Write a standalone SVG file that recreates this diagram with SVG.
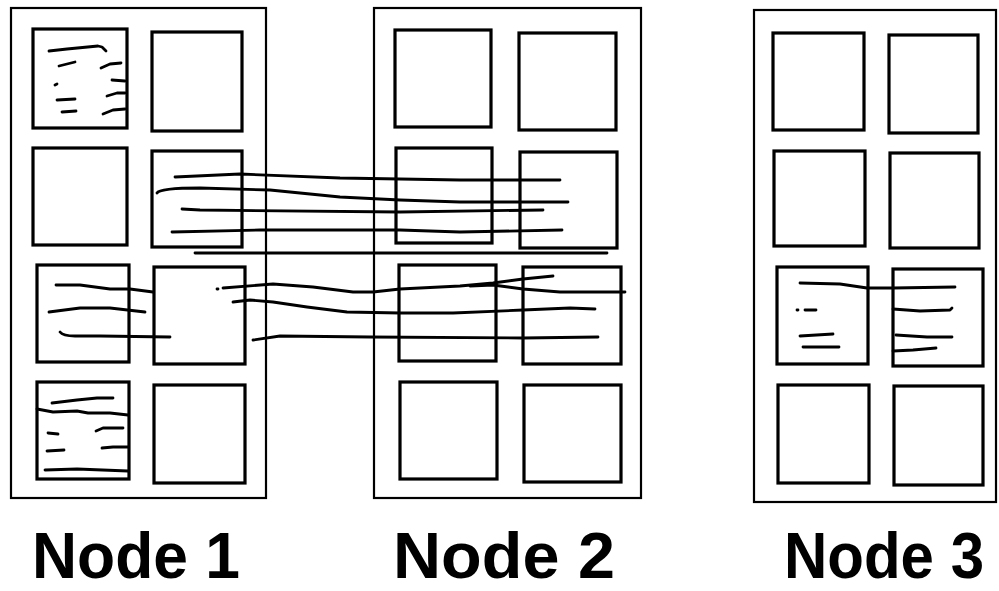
<svg xmlns="http://www.w3.org/2000/svg" width="999" height="591" viewBox="0 0 999 591">
  <style>
    .panel { fill: none; stroke: #000; stroke-width: 2.2; }
    .cell { fill: none; stroke: #000; stroke-width: 3.2; }
    .ink { fill: none; stroke: #000; stroke-width: 2.8; stroke-linecap: round; stroke-linejoin: round; }
    .label { font-family: "Liberation Sans", Arial, Helvetica, sans-serif; font-weight: bold; font-size: 64px; fill: #000; }
  </style>
  <rect x="0" y="0" width="999" height="591" fill="#fff"/>

  <!-- Node 1: memory panel with eight pages -->
  <g id="node1">
    <rect class="panel" x="11" y="8" width="255" height="490"/>
    <rect class="cell" x="33" y="29" width="94" height="99"/>
    <rect class="cell" x="152" y="32" width="90" height="99"/>
    <rect class="cell" x="33" y="148" width="94" height="97"/>
    <rect class="cell" x="152" y="151" width="90" height="96"/>
    <rect class="cell" x="37" y="265" width="92" height="97"/>
    <rect class="cell" x="154" y="267" width="91" height="97"/>
    <rect class="cell" x="37" y="382" width="92" height="97"/>
    <rect class="cell" x="154" y="385" width="91" height="98"/>
    <!-- scribbles in the top-left page -->
    <path class="ink" d="M49,51 L67,49 L98,46 L102,47 L106,51"/>
    <path class="ink" d="M59,66 L75,62"/>
    <path class="ink" d="M101,68 L110,64 L121,63"/>
    <path class="ink" d="M55,85 L57,84"/>
    <path class="ink" d="M112,80 L125,81"/>
    <path class="ink" d="M57,100 L75,99"/>
    <path class="ink" d="M107,96 L117,93 L125,93"/>
    <path class="ink" d="M62,112 L76,111"/>
    <path class="ink" d="M103,114 L113,110 L125,109"/>
    <!-- scribbles in the bottom-left page -->
    <path class="ink" d="M52,403 L77,400 L97,398 L113,398"/>
    <path class="ink" d="M37,409 L53,412 L77,411 L88,413 L110,413 L128,415"/>
    <path class="ink" d="M48,433 L58,434"/>
    <path class="ink" d="M96,431 L103,428 L123,428"/>
    <path class="ink" d="M47,451 L64,450"/>
    <path class="ink" d="M102,448 L113,447 L128,447"/>
    <path class="ink" d="M45,470 L77,469 L128,471"/>
    <!-- strokes between the third-row pages -->
    <path class="ink" d="M56,285 L80,285 L110,289 L130,289 L153,292"/>
    <path class="ink" d="M49,312 L80,308 L110,308 L145,312"/>
    <path class="ink" d="M60,332 Q63,336 75,336 L100,336 L170,337"/>
    <text class="label" x="32" y="578" textLength="208" lengthAdjust="spacingAndGlyphs">Node 1</text>
  </g>

  <!-- Node 2 -->
  <g id="node2">
    <rect class="panel" x="374" y="8" width="267" height="490"/>
    <rect class="cell" x="395" y="30" width="96" height="97"/>
    <rect class="cell" x="519" y="33" width="97" height="97"/>
    <rect class="cell" x="396" y="148" width="96" height="95"/>
    <rect class="cell" x="520" y="152" width="97" height="96"/>
    <rect class="cell" x="399" y="265" width="97" height="96"/>
    <rect class="cell" x="523" y="267" width="98" height="97"/>
    <rect class="cell" x="400" y="382" width="97" height="97"/>
    <rect class="cell" x="524" y="385" width="97" height="97"/>
    <text class="label" x="393" y="578" textLength="222" lengthAdjust="spacingAndGlyphs">Node 2</text>
  </g>

  <!-- Node 3 -->
  <g id="node3">
    <rect class="panel" x="754" y="10" width="242" height="492"/>
    <rect class="cell" x="773" y="33" width="91" height="97"/>
    <rect class="cell" x="889" y="35" width="89" height="98"/>
    <rect class="cell" x="774" y="151" width="91" height="95"/>
    <rect class="cell" x="890" y="153" width="89" height="95"/>
    <rect class="cell" x="777" y="267" width="91" height="97"/>
    <rect class="cell" x="893" y="269" width="90" height="97"/>
    <rect class="cell" x="778" y="385" width="91" height="98"/>
    <rect class="cell" x="894" y="386" width="89" height="99"/>
    <path class="ink" d="M800,283 L840,284 L867,288 L893,288 L955,287"/>
    <path class="ink" d="M797,310 L798,310 M805,310 L816,310"/>
    <path class="ink" d="M800,336 L833,334"/>
    <path class="ink" d="M803,347 L839,347"/>
    <path class="ink" d="M893,309 L920,311 L950,310 L952,308"/>
    <path class="ink" d="M896,335 L927,337 L952,337"/>
    <path class="ink" d="M893,351 L913,350 L936,348"/>
    <text class="label" x="784" y="578" textLength="200" lengthAdjust="spacingAndGlyphs">Node 3</text>
  </g>

  <!-- links from Node 1 pages to Node 2 pages -->
  <g id="connectors">
    <path class="ink" d="M175,177 L240,174 L340,178 L460,180 L560,180"/>
    <path class="ink" d="M157,193 Q160,188 200,188 L270,190 L340,197 L400,200 L460,202 L568,202"/>
    <path class="ink" d="M182,209 L200,210 L400,212 L543,210"/>
    <path class="ink" d="M172,232 L260,230 L400,230 L460,232 L562,230"/>
    <path class="ink" d="M195,253 L607,253"/>
    <path class="ink" d="M217,289 L218,289 M223,288 L273,284 L313,287 L353,292 L373,292 L400,289 L460,286 L493,283 L523,279 L553,276"/>
    <path class="ink" d="M470,286 L493,285 L523,289 L560,292 L625,292"/>
    <path class="ink" d="M233,302 L250,300 L273,302 L307,307 L347,312 L400,313 L453,313 L523,310 L570,308 L595,309"/>
    <path class="ink" d="M253,340 L280,336 L370,337 L523,338 L598,337"/>
  </g>
</svg>
